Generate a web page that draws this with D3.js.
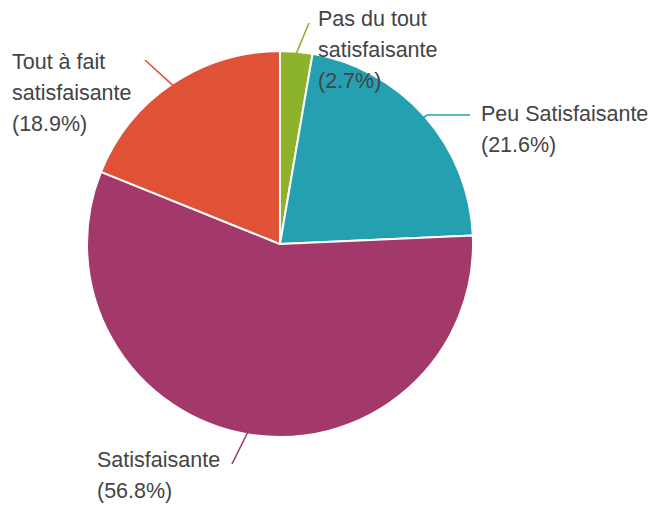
<!DOCTYPE html>
<html>
<head>
<meta charset="utf-8">
<script src="https://cdn.jsdelivr.net/npm/d3@7"></script>
<style>
  body { margin: 0; background: #fff; }
  svg { display: block; }
</style>
</head>
<body>
<svg class="pie" width="657" height="506"></svg>
<script>
const categories = ['Pas du tout satisfaisante', 'Peu Satisfaisante', 'Satisfaisante', 'Tout à fait satisfaisante']
const values = [2.7, 21.6, 56.8, 18.9]
const labelLines = [['Pas du tout', 'satisfaisante', '(2.7%)'], ['Peu Satisfaisante', '(21.6%)'], ['Satisfaisante', '(56.8%)'], ['Tout à fait', 'satisfaisante', '(18.9%)']]
const colors = ['#8db22c', '#24a0b1', '#a3386a', '#e05236']

const width = 657
const height = 506
const cx = 280
const cy = 244
const radius = 193
const lineHeight = 31

// where each label sits and where its leader line ends
const labelLayout = [
  { x: 318, y: 26, end: [309, 23] },
  { x: 481, y: 121, end: [470, 115], elbow: [427, 115] },
  { x: 97, y: 467, end: [232, 464] },
  { x: 12, y: 69, end: [145, 60] }
]

const data = categories.map((c, i) => ({ name: c, value: values[i], lines: labelLines[i] }))

const svg = d3.select('svg.pie')
const chart = svg.append('g')
  .attr('transform', `translate(${cx}, ${cy})`)

const pie = d3.pie().sort(null).value(d => d.value)
const arc = d3.arc().innerRadius(0).outerRadius(radius)
const edge = d3.arc().innerRadius(radius - 2).outerRadius(radius - 2)
const arcs = pie(data)

chart.selectAll('path.slice')
  .data(arcs)
  .enter().append('path')
  .attr('class', 'slice')
  .attr('d', arc)
  .attr('fill', (d, i) => colors[i])
  .attr('stroke', '#fff')
  .attr('stroke-width', 2)
  .attr('stroke-linejoin', 'round')

svg.selectAll('polyline.leader')
  .data(arcs)
  .enter().append('polyline')
  .attr('class', 'leader')
  .attr('fill', 'none')
  .attr('stroke', (d, i) => colors[i])
  .attr('stroke-width', 1.6)
  .attr('points', (d, i) => {
    const c = edge.centroid(d)
    const pts = [[c[0] + cx, c[1] + cy]]
    if (labelLayout[i].elbow) pts.push(labelLayout[i].elbow)
    pts.push(labelLayout[i].end)
    return pts.map(p => p.join(',')).join(' ')
  })

const labels = svg.selectAll('text.label')
  .data(arcs)
  .enter().append('text')
  .attr('class', 'label')
  .attr('x', (d, i) => labelLayout[i].x)
  .attr('y', (d, i) => labelLayout[i].y)
  .attr('font-family', 'Arial, "Liberation Sans", sans-serif')
  .attr('font-size', '21.5px')
  .attr('fill', '#444')

labels.each(function (d, i) {
  d3.select(this).selectAll('tspan')
    .data(d.data.lines)
    .enter().append('tspan')
    .attr('x', labelLayout[i].x)
    .attr('dy', (t, j) => j === 0 ? 0 : lineHeight)
    .text(t => t)
})
</script>
</body>
</html>
